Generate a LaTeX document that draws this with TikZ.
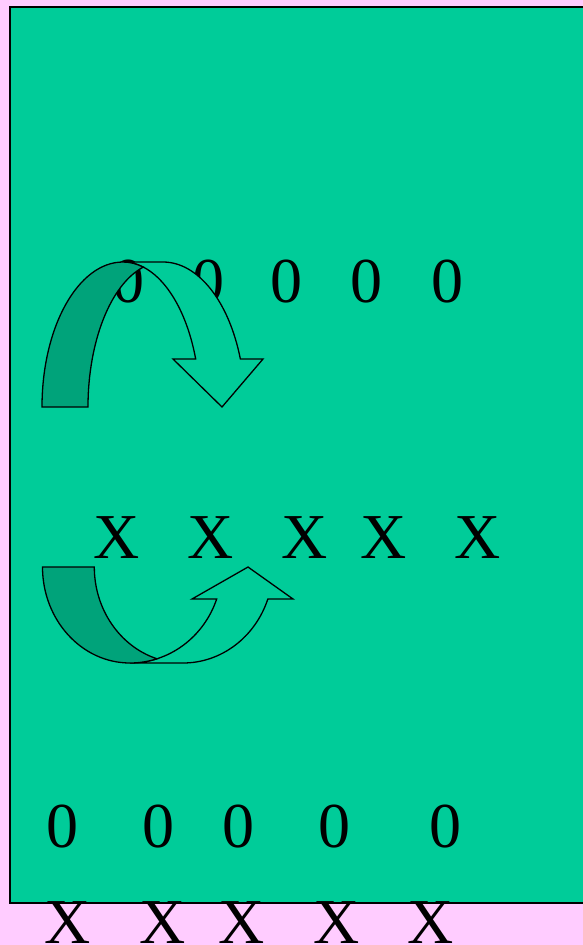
\documentclass[tikz,border=0pt]{standalone}
\usepackage{fontspec}
\setmainfont{Liberation Serif}
\definecolor{bgpink}{HTML}{FFCCFF}
\definecolor{boardgreen}{HTML}{00CC99}
\definecolor{darkband}{HTML}{00A37A}
\begin{document}
\begin{tikzpicture}[x=1pt,y=1pt,
  glyph/.style={inner sep=0pt, anchor=base, font=\fontsize{64}{64}\selectfont},
  lightband/.style={draw=black, fill=boardgreen, line width=1.3pt, line join=miter},
  darkbandstyle/.style={draw=black, fill=darkband, line width=1.3pt, line join=miter}]
\useasboundingbox (0,0) rectangle (583,-945);
\clip (0,0) rectangle (583,-945);
\fill[bgpink] (0,0) rectangle (583,-945);
\draw[fill=boardgreen, line width=1.5pt] (10,-7) rectangle (600,-903);

% top row of zeros
\node[glyph] (z1) at (128,-302) {0};
\node[glyph] (z2) at (208,-302) {0};
\node[glyph] (z3) at (286,-302) {0};
\node[glyph] (z4) at (366,-302) {0};
\node[glyph] (z5) at (447,-302) {0};
% row of X
\node[glyph] (x1) at (117,-558) {X};
\node[glyph] (x2) at (211,-558) {X};
\node[glyph] (x3) at (305,-558) {X};
\node[glyph] (x4) at (384,-558) {X};
\node[glyph] (x5) at (478,-558) {X};
% bottom row of zeros
\node[glyph] (b1) at (62,-847) {0};
\node[glyph] (b2) at (158,-847) {0};
\node[glyph] (b3) at (238,-847) {0};
\node[glyph] (b4) at (334,-847) {0};
\node[glyph] (b5) at (445,-847) {0};
% bottom row of X
\node[glyph] (y1) at (68,-943) {X};
\node[glyph] (y2) at (163,-943) {X};
\node[glyph] (y3) at (242,-943) {X};
\node[glyph] (y4) at (337,-943) {X};
\node[glyph] (y5) at (431,-943) {X};

% curved down arrow (top)
\path[lightband] (123,-262) -- (163,-262)
  arc[start angle=90, end angle=19.33, x radius=82, y radius=145]
  -- (263,-359) -- (222,-407) -- (173,-359) -- (195.7,-359)
  arc[start angle=19.33, end angle=90, x radius=77, y radius=145] -- cycle;
\path[darkbandstyle] (42,-407)
  arc[start angle=180, end angle=90, x radius=81, y radius=145]
  arc[start angle=90, end angle=74.74, x radius=77, y radius=145]
  arc[start angle=105.26, end angle=180, x radius=75, y radius=145] -- cycle;

% curved up arrow (bottom)
\path[lightband] (130,-663) -- (183,-663)
  arc[start angle=270, end angle=340.53, x radius=90, y radius=96]
  -- (293,-599) -- (248,-567) -- (192,-599) -- (216.7,-599)
  arc[start angle=340.53, end angle=270, x radius=92, y radius=96] -- cycle;
\path[darkbandstyle] (42.5,-567)
  arc[start angle=180, end angle=270, x radius=87.5, y radius=96]
  arc[start angle=270, end angle=287.06, x radius=92, y radius=96]
  arc[start angle=252.94, end angle=180, x radius=88.7, y radius=96] -- cycle;
\end{tikzpicture}
\end{document}
